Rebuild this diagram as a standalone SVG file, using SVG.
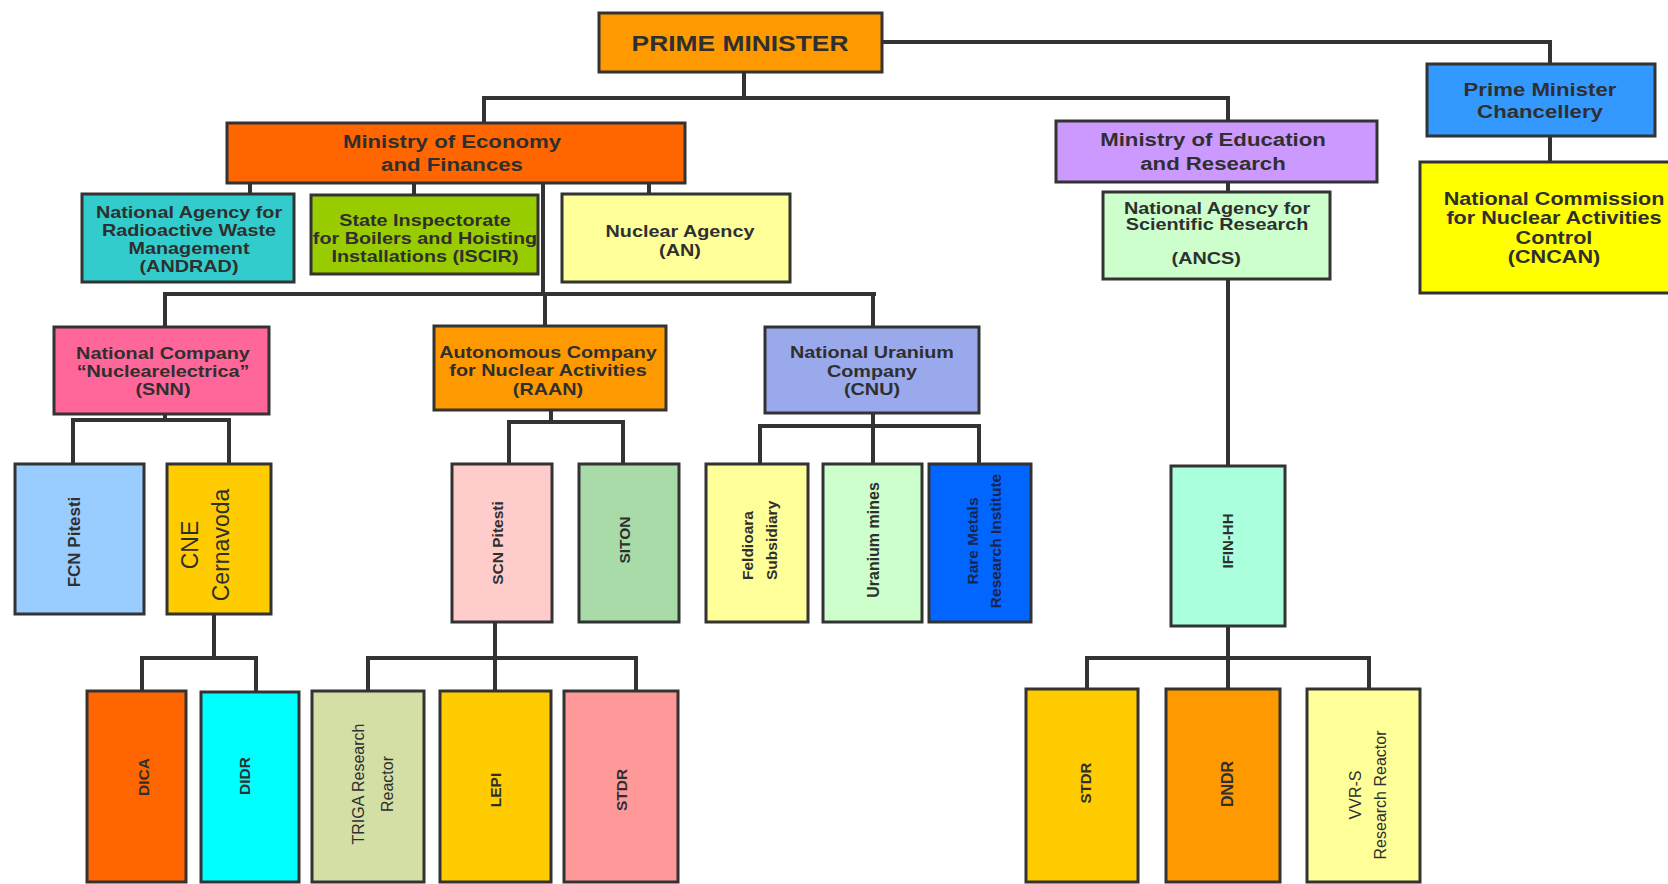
<svg xmlns="http://www.w3.org/2000/svg" width="1668" height="884" viewBox="0 0 1668 884">
<style>
.box{stroke:#333;stroke-width:3}
.t{font-family:"Liberation Sans",Arial,sans-serif;font-weight:bold;fill:#2f2f2f;text-anchor:middle}
.r{font-weight:normal}
.h{font-size:16.5px}
.m{font-size:18.5px}
.v{font-size:15.5px}
.c{fill:none;stroke:#333;stroke-width:4;stroke-linecap:square}
</style>
<rect width="1668" height="884" fill="#fff"/>
<g id="connectors" class="c">
<path d="M882,42H1550V64"/>
<path d="M1550,136V162"/>
<path d="M744,72V98"/>
<path d="M484,98H1228"/>
<path d="M484,98V123"/>
<path d="M1228,98V121"/>
<path d="M1228,182V192"/>
<path d="M250,183V194"/>
<path d="M414,183V195"/>
<path d="M649,183V194"/>
<path d="M543,183V294"/>
<path d="M165,294H874"/>
<path d="M165,294V327"/>
<path d="M545,294V326"/>
<path d="M873,294V327"/>
<path d="M165,414V420"/>
<path d="M73,420H229"/>
<path d="M73,420V464"/>
<path d="M229,420V464"/>
<path d="M214,614V658"/>
<path d="M142,658H256"/>
<path d="M142,658V691"/>
<path d="M256,658V692"/>
<path d="M551,410V422"/>
<path d="M509,422H623"/>
<path d="M509,422V464"/>
<path d="M623,422V464"/>
<path d="M495,622V691"/>
<path d="M368,658H636"/>
<path d="M368,658V691"/>
<path d="M636,658V691"/>
<path d="M873,413V464"/>
<path d="M760,426H979"/>
<path d="M760,426V464"/>
<path d="M979,426V464"/>
<path d="M1228,279V466"/>
<path d="M1228,626V689"/>
<path d="M1087,658H1369"/>
<path d="M1087,658V689"/>
<path d="M1369,658V689"/>
</g>
<g id="pm"><rect class="box" x="599" y="13" width="283" height="59" fill="#FF9900"/>
<g transform="translate(740,0) scale(1.2,1)"><text class="t" x="0" y="51" font-size="22">PRIME MINISTER</text></g></g>
<g id="econ"><rect class="box" x="227" y="123" width="458" height="60" fill="#FF6600"/>
<g transform="translate(452,0) scale(1.2,1)"><text class="t m" x="0" y="148">Ministry of Economy</text><text class="t m" x="0" y="171">and Finances</text></g></g>
<g id="edu"><rect class="box" x="1056" y="121" width="321" height="61" fill="#CC99FF"/>
<g transform="translate(1213,0) scale(1.2,1)"><text class="t m" x="0" y="146">Ministry of Education</text><text class="t m" x="0" y="170">and Research</text></g></g>
<g id="chancellery"><rect class="box" x="1427" y="64" width="228" height="72" fill="#3399FF"/>
<g transform="translate(1540,0) scale(1.2,1)"><text class="t m" x="0" y="96">Prime Minister</text><text class="t m" x="0" y="118">Chancellery</text></g></g>
<g id="cncan"><rect class="box" x="1420" y="162" width="270" height="131" fill="#FFFF00"/>
<g transform="translate(1554,0) scale(1.2,1)"><text class="t" font-size="18" x="0" y="205">National Commission</text><text class="t" font-size="18" x="0" y="224">for Nuclear Activities</text><text class="t" font-size="18" x="0" y="244">Control</text><text class="t" font-size="18" x="0" y="263">(CNCAN)</text></g></g>
<g id="andrad"><rect class="box" x="82" y="194" width="212" height="88" fill="#33CCCC"/>
<g transform="translate(189,0) scale(1.2,1)"><text class="t h" x="0" y="218">National Agency for</text><text class="t h" x="0" y="236">Radioactive Waste</text><text class="t h" x="0" y="254">Management</text><text class="t h" x="0" y="272">(ANDRAD)</text></g></g>
<g id="iscir"><rect class="box" x="311" y="195" width="227" height="79" fill="#99CC00"/>
<g transform="translate(425,0) scale(1.2,1)"><text class="t h" x="0" y="226">State Inspectorate</text><text class="t h" x="0" y="244">for Boilers and Hoisting</text><text class="t h" x="0" y="262">Installations (ISCIR)</text></g></g>
<g id="an"><rect class="box" x="562" y="194" width="228" height="88" fill="#FFFF99"/>
<g transform="translate(680,0) scale(1.2,1)"><text class="t h" x="0" y="237">Nuclear Agency</text><text class="t h" x="0" y="256">(AN)</text></g></g>
<g id="ancs"><rect class="box" x="1103" y="192" width="227" height="87" fill="#CCFFCC"/>
<g transform="translate(1217,0) scale(1.2,1)"><text class="t h" x="0" y="214">National Agency for</text><text class="t h" x="0" y="230">Scientific Research</text><text class="t h" x="-9" y="264">(ANCS)</text></g></g>
<g id="snn"><rect class="box" x="54" y="327" width="215" height="87" fill="#FF6699"/>
<g transform="translate(163,0) scale(1.2,1)"><text class="t h" x="0" y="359">National Company</text><text class="t h" x="0" y="377">“Nuclearelectrica”</text><text class="t h" x="0" y="395">(SNN)</text></g></g>
<g id="raan"><rect class="box" x="434" y="326" width="232" height="84" fill="#FF9900"/>
<g transform="translate(548,0) scale(1.2,1)"><text class="t h" x="0" y="358">Autonomous Company</text><text class="t h" x="0" y="376">for Nuclear Activities</text><text class="t h" x="0" y="395">(RAAN)</text></g></g>
<g id="cnu"><rect class="box" x="765" y="327" width="214" height="86" fill="#99A9EC"/>
<g transform="translate(872,0) scale(1.2,1)"><text class="t h" x="0" y="358">National Uranium</text><text class="t h" x="0" y="377">Company</text><text class="t h" x="0" y="395">(CNU)</text></g></g>
<g id="fcn"><rect class="box" x="15" y="464" width="129" height="150" fill="#99CCFF"/>
<text class="t" font-size="17" transform="translate(74,542) rotate(-90)" x="0" y="6">FCN Pitesti</text></g>
<g id="cne"><rect class="box" x="167" y="464" width="104" height="150" fill="#FFCC00"/>
<g transform="translate(205,545) rotate(-90)"><text class="t r" font-size="23" x="0" y="-7">CNE</text><text class="t r" font-size="23" x="0" y="24">Cernavoda</text></g></g>
<g id="scn"><rect class="box" x="452" y="464" width="100" height="158" fill="#FFCCCC"/>
<text class="t v" transform="translate(497,543) rotate(-90)" x="0" y="5.5">SCN Pitesti</text></g>
<g id="siton"><rect class="box" x="579" y="464" width="100" height="158" fill="#A8DBA8"/>
<text class="t v" transform="translate(624,540) rotate(-90)" x="0" y="5.5">SITON</text></g>
<g id="feldioara"><rect class="box" x="706" y="464" width="102" height="158" fill="#FFFF99"/>
<g transform="translate(760,580) rotate(-90)"><text class="t v" text-anchor="start" style="text-anchor:start" x="0" y="-7">Feldioara</text><text class="t v" style="text-anchor:start" x="0" y="17">Subsidiary</text></g></g>
<g id="uranium-mines"><rect class="box" x="823" y="464" width="99" height="158" fill="#CCFFCC"/>
<text class="t" font-size="16" transform="translate(873,540) rotate(-90)" x="0" y="6">Uranium mines</text></g>
<g id="rare-metals"><rect class="box" x="929" y="464" width="102" height="158" fill="#0066FF"/>
<g transform="translate(983,541) rotate(-90)"><text class="t v" style="fill:#1a2450" x="0" y="-5.5">Rare Metals</text><text class="t v" style="fill:#1a2450" x="0" y="17.5">Research Institute</text></g></g>
<g id="ifin-hh"><rect class="box" x="1171" y="466" width="114" height="160" fill="#AAFFDD"/>
<text class="t" font-size="15" transform="translate(1227,541) rotate(-90)" x="0" y="5.5">IFIN-HH</text></g>
<g id="dica"><rect class="box" x="87" y="691" width="99" height="191" fill="#FF6600"/>
<text class="t v" transform="translate(143,777) rotate(-90)" x="0" y="5.5">DICA</text></g>
<g id="didr"><rect class="box" x="201" y="692" width="98" height="190" fill="#00FFFF"/>
<text class="t v" transform="translate(244,776) rotate(-90)" x="0" y="5.5">DIDR</text></g>
<g id="triga"><rect class="box" x="312" y="691" width="112" height="191" fill="#D4DFA6"/>
<g transform="translate(372,784) rotate(-90)"><text class="t r" font-size="16" x="0" y="-8">TRIGA Research</text><text class="t r" font-size="16" x="0" y="21">Reactor</text></g></g>
<g id="lepi"><rect class="box" x="440" y="691" width="111" height="191" fill="#FFCC00"/>
<text class="t v" transform="translate(495,790) rotate(-90)" x="0" y="5.5">LEPI</text></g>
<g id="stdr-1"><rect class="box" x="564" y="691" width="114" height="191" fill="#FF9999"/>
<text class="t v" transform="translate(621,790) rotate(-90)" x="0" y="5.5">STDR</text></g>
<g id="stdr-2"><rect class="box" x="1026" y="689" width="112" height="193" fill="#FFCC00"/>
<text class="t" font-size="15" transform="translate(1085,783) rotate(-90)" x="0" y="5.5">STDR</text></g>
<g id="dndr"><rect class="box" x="1166" y="689" width="114" height="193" fill="#FF9900"/>
<text class="t" font-size="16" transform="translate(1227,784) rotate(-90)" x="0" y="6">DNDR</text></g>
<g id="vvr-s"><rect class="box" x="1307" y="689" width="113" height="193" fill="#FFFF99"/>
<g transform="translate(1368,795) rotate(-90)"><text class="t r" font-size="16" x="0" y="-7">VVR-S</text><text class="t r" font-size="16" x="0" y="18">Research Reactor</text></g></g>
</svg>
